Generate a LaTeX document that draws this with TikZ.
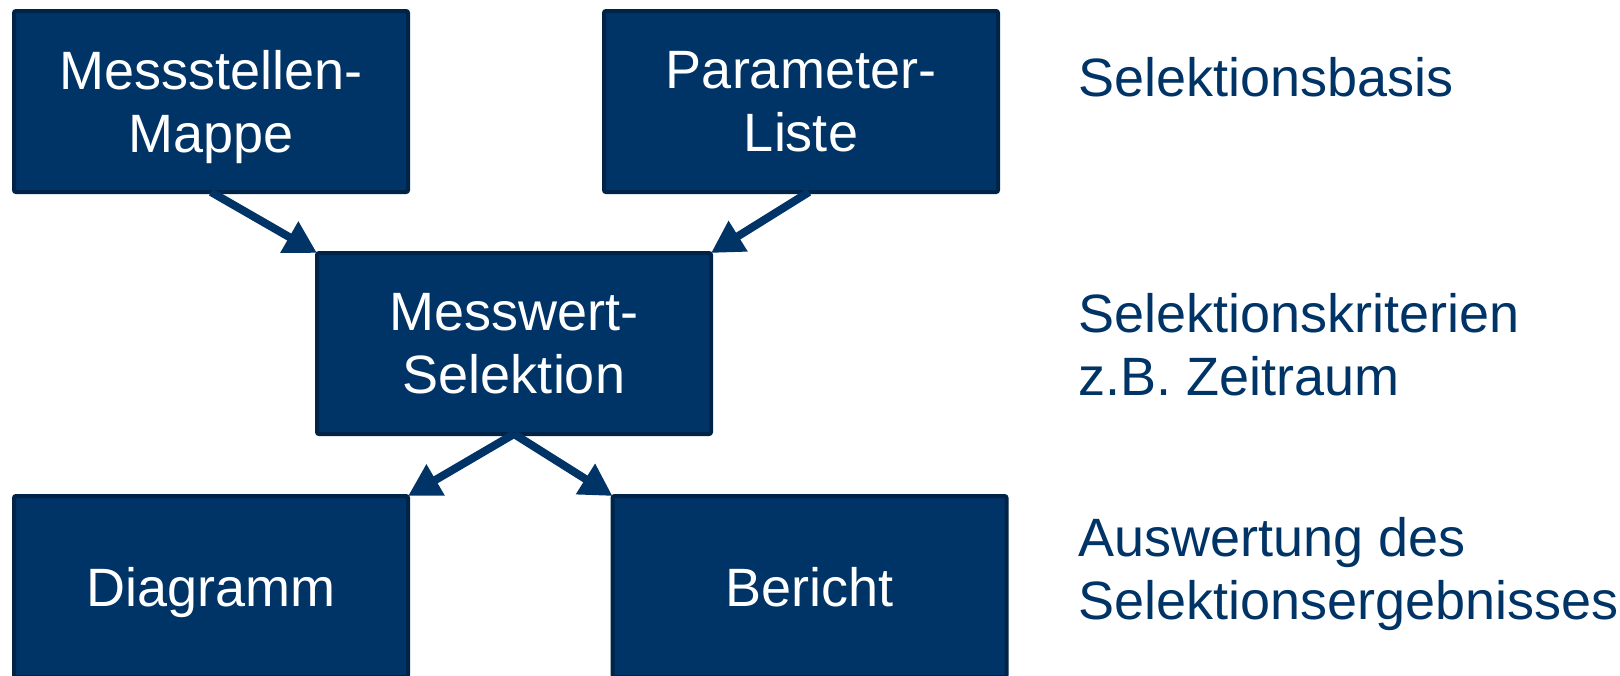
\documentclass[tikz,border=0pt]{standalone}
\usepackage{fontspec}
\setmainfont{Liberation Sans}
\usetikzlibrary{arrows.meta}
\definecolor{boxblue}{RGB}{0,51,102}
\definecolor{boxedge}{RGB}{0,36,72}

\begin{document}
\begin{tikzpicture}[x=0.5pt, y=-0.5pt, >={Triangle[length=16pt,width=17pt]},
  box/.style={rectangle, rounded corners=1pt, fill=boxblue, draw=boxedge, line width=2pt,
    minimum width=197pt, minimum height=90.5pt, inner sep=0pt, outer sep=0pt,
    text depth=0pt, text=white, align=center, font=\fontsize{27}{31.5}\selectfont},
  side/.style={anchor=west, inner sep=0pt, align=left, text=boxblue,
    font=\fontsize{27}{31.5}\selectfont},
  link/.style={->, line width=4pt, draw=boxblue}]
\useasboundingbox (0,0) rectangle (1620,675);
\clip (0,0) rectangle (1620,675);
% boxes
\node (mappe) at (211,101.5) [box] {Messstellen-\\Mappe};
\node (liste) at (801,101.5) [box] {Parameter-\\Liste};
\node (sel) at (514,343.5) [box] {Messwert-\\Selektion};
\node (diag) at (211,586.5) [box] {Diagramm};
\node (ber) at (809.5,586.5) [box] {Bericht};
% right column
\node (basis) at (1078,77) [side] {Selektionsbasis};
\node (krit) at (1078,345) [side] {Selektionskriterien\\z.B. Zeitraum};
\node (ausw) at (1078,574) [side] {Auswertung des\\Selektionsergebnisses};
% arrows
\draw[link] (mappe.south) -- (sel.north west);
\draw[link] ([xshift=4pt]liste.south) -- (sel.north east);
\draw[link] (sel.south) -- (diag.north east);
\draw[link] (sel.south) -- (ber.north west);
\end{tikzpicture}
\end{document}
